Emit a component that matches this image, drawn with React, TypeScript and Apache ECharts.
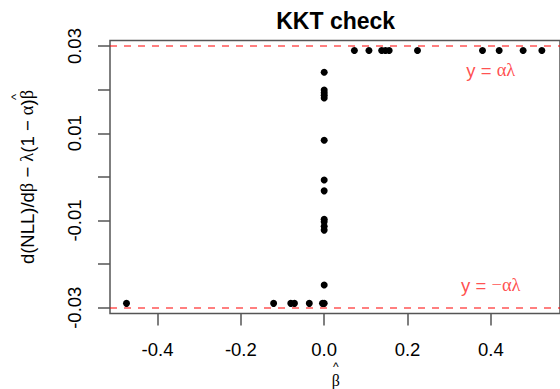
import React, { useEffect, useRef } from "react";
import * as echarts from "echarts";

// ---- data ----
const alphaLambda = 0.029;
// coefficients with beta-hat > 0 sit on y = alpha*lambda
const topBetaHat = [0.0725, 0.1075, 0.138, 0.147, 0.156, 0.224, 0.38, 0.42, 0.4775, 0.5225];
// coefficients with beta-hat < 0 sit on y = -alpha*lambda
const bottomBetaHat = [-0.4744, -0.1213, -0.0801, -0.0713, -0.0357, -0.004, 0.0];
// zero coefficients (beta-hat = 0): gradient values
const zeroGrad = [0.024, 0.0199, 0.0193, 0.0187, 0.0181, 0.0084, -0.0007, -0.0032, -0.0097, -0.0103, -0.0113, -0.0122, -0.0248];
const xTicks = [-0.4, -0.2, 0.0, 0.2, 0.4];
const yTicks = [-0.03, -0.02, -0.01, 0.0, 0.01, 0.02, 0.03];
const yTickLabels = [-0.03, -0.01, 0.01, 0.03];
const annotations = [
  { x: 0.4, y: 0.0245, text: "{s|y = }{g|αλ}" },
  { x: 0.4, y: -0.0248, text: "{s|y = }{g|−αλ}" },
];

const SANS = "Liberation Sans, Arial, sans-serif";
const SERIF = "Liberation Serif, DejaVu Serif, serif";
const AXIS_COLOR = "#555";
const FS = 18.5;

export default function App() {
  const ref = useRef<HTMLDivElement>(null);
  useEffect(() => {
    if (!ref.current) return;
    const chart = echarts.init(ref.current, null, { renderer: "svg" });
    const points: number[][] = [];
    topBetaHat.forEach((x) => points.push([x, alphaLambda]));
    bottomBetaHat.forEach((x) => points.push([x, -alphaLambda]));
    zeroGrad.forEach((y) => points.push([0, y]));

    chart.setOption({
      animation: false,
      backgroundColor: "#fff",
      grid: {
        left: 110,
        right: -4,
        top: 40.4,
        bottom: 75.6,
        show: true,
        borderColor: AXIS_COLOR,
        borderWidth: 1.5,
        backgroundColor: "transparent",
      },
      xAxis: {
        type: "value",
        min: -0.514,
        max: 0.566,
        splitLine: { show: false },
        axisLine: { show: false, onZero: false },
        axisTick: {
          show: true,
          inside: false,
          length: 12,
          customValues: xTicks,
          lineStyle: { color: AXIS_COLOR, width: 1.5 },
        },
        axisLabel: {
          customValues: xTicks,
          margin: 27,
          fontSize: FS,
          fontFamily: SANS,
          color: "#000",
          formatter: (v: number) => v.toFixed(1),
        },
      },
      yAxis: {
        type: "value",
        min: -0.0313,
        max: 0.0313,
        splitLine: { show: false },
        axisLine: { show: false, onZero: false },
        axisTick: {
          show: true,
          inside: false,
          length: 12,
          customValues: yTicks,
          lineStyle: { color: AXIS_COLOR, width: 1.5 },
        },
        axisLabel: {
          customValues: yTickLabels,
          rotate: 90,
          margin: 26,
          fontSize: FS,
          fontFamily: SANS,
          color: "#000",
          formatter: (v: number) => v.toFixed(2),
        },
      },
      graphic: [
        {
          type: "text",
          x: 335.7,
          y: 20.5,
          style: {
            text: "KKT check",
            fontSize: 23,
            fontWeight: "bold",
            fontFamily: SANS,
            fill: "#000",
            align: "center",
            verticalAlign: "middle",
          },
        },
        {
          type: "text",
          x: 335.7,
          y: 360.5,
          style: {
            text: "{h|^}\n{b|β}",
            align: "center",
            verticalAlign: "top",
            fill: "#000",
            rich: {
              h: { fontSize: 12, fontFamily: SANS, lineHeight: 12, fill: "#000" },
              b: { fontSize: 16, fontFamily: SERIF, lineHeight: 16, fill: "#000" },
            },
          },
        },
        {
          type: "group",
          x: 27,
          y: 177,
          rotation: Math.PI / 2,
          children: [
            {
              type: "text",
              x: 0,
              y: 0,
              style: {
                text: "{s|d(NLL)/d}{g|β}{s| − }{g|λ}{s|(1 − }{g|α}{s|)}{g|β}",
                align: "center",
                verticalAlign: "middle",
                fill: "#000",
                rich: {
                  s: { fontSize: FS, fontFamily: SANS, fill: "#000" },
                  g: { fontSize: FS, fontFamily: SERIF, fill: "#000" },
                },
              },
            },
            {
              type: "text",
              x: 80,
              y: -12,
              style: {
                text: "^",
                fontSize: 13,
                fontFamily: SANS,
                fill: "#000",
                align: "center",
                verticalAlign: "middle",
              },
            },
          ],
        },
      ],
      series: [
        {
          type: "scatter",
          data: points,
          symbol: "circle",
          symbolSize: 7,
          itemStyle: { color: "#000", opacity: 1 },
          z: 2,
          silent: true,
        },
        {
          type: "scatter",
          data: annotations.map((a) => ({ value: [a.x, a.y], label: { formatter: a.text } })),
          symbolSize: 0,
          silent: true,
          z: 3,
          label: {
            show: true,
            position: "inside",
            color: "#ff2222",
            rich: {
              s: { fontSize: FS, fontFamily: SANS, color: "#ff2222" },
              g: { fontSize: FS, fontFamily: SERIF, color: "#ff2222" },
            },
          },
        },
        {
          type: "line",
          data: [],
          z: 5,
          markLine: {
            silent: true,
            symbol: "none",
            label: { show: false },
            lineStyle: { color: "rgba(255,0,0,0.5)", type: [7, 7], width: 2 },
            data: [{ yAxis: alphaLambda }, { yAxis: -alphaLambda }],
          },
        },
      ],
    });
    return () => chart.dispose();
  }, []);
  return (
    <div
      ref={ref}
      style={{ position: "fixed", left: 0, top: 0, width: 560, height: 389, overflow: "hidden", background: "#fff" }}
    />
  );
}
